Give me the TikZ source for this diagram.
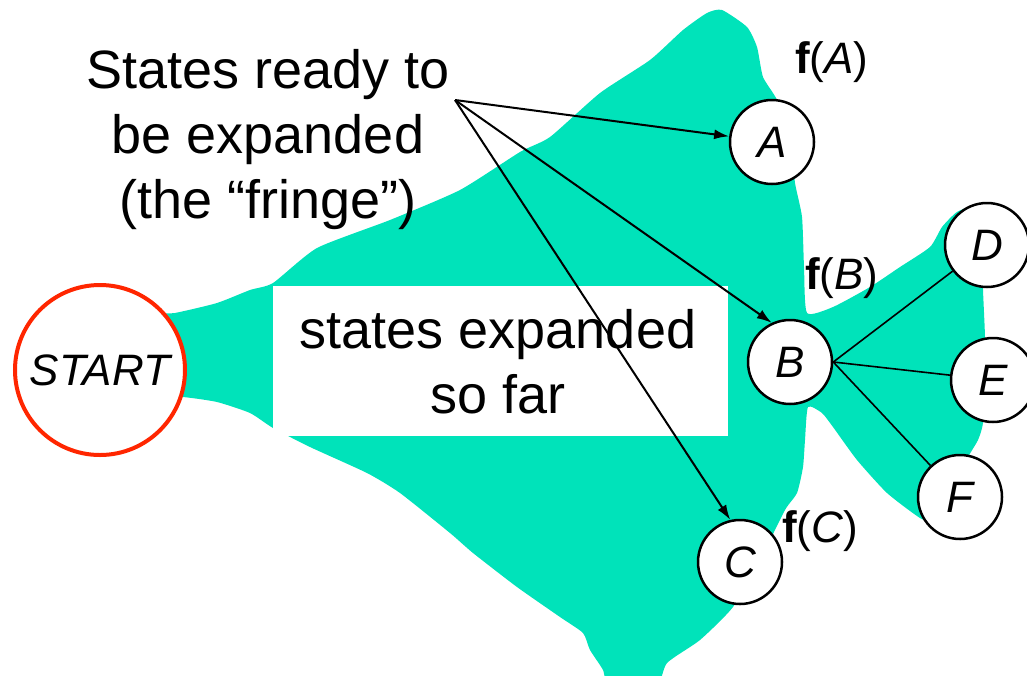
\documentclass[tikz,border=0pt]{standalone}
\usepackage{fontspec}
\setmainfont{Liberation Sans}
\usetikzlibrary{arrows.meta}
\definecolor{blobgreen}{RGB}{0,227,186}
\definecolor{startred}{RGB}{255,38,0}
\tikzset{
  big/.style={font=\fontsize{54}{65}\selectfont, inner sep=0pt, align=center},
  small/.style={font=\fontsize{44}{50}\selectfont, inner sep=0pt},
  state/.style={circle, draw=black, line width=2.5pt, fill=white, minimum size=84pt, inner sep=0pt, font=\fontsize{44}{50}\selectfont\itshape},
  startstate/.style={circle, draw=startred, line width=4pt, fill=white, minimum size=170pt, inner sep=0pt, font=\fontsize{44}{50}\selectfont\itshape},
  arr/.style={line width=2pt, -{Latex[length=15pt,width=10pt]}},
  edge/.style={line width=1.6pt}
}
\begin{document}
\begin{tikzpicture}[x=1pt, y=-1pt]
\useasboundingbox (0,0) rectangle (1027,675);
% green region
\fill[blobgreen] plot[smooth cycle, tension=0.35] coordinates {
(140,318) (175,313) (217,303) (250,290) (273,283) (317,248) (390,220) (460,190)
(520,152) (550,137) (600,93) (650,60) (683,30) (707,13) (722,10) (747,27)
(757,47) (763,77) (777,100) (790,140) (795,183) (802,217) (804,267) (807,313)
(833,307) (870,287) (900,267) (930,247) (942,227) (957,212) (975,208) (982,250)
(983,290) (985,337) (985,380) (983,423) (978,440) (968,457) (945,500) (935,522)
(920,518) (887,493) (857,460) (833,427) (822,413) (808,407) (805,440) (803,467)
(797,493) (785,510) (760,560) (733,607) (700,640) (667,663) (655,690) (610,690)
(603,670) (590,650) (583,633) (560,617) (517,587) (473,553) (450,533) (400,493)
(367,473) (310,447) (273,428) (250,413) (217,402) (183,397) (140,395)};
% white box
\fill[white] (273,286) rectangle (728,436);
\node[big, anchor=base] (expl) at (498,413) {states expanded\\so far};
% fringe label
\node[big, anchor=base] (fringe) at (268,218) {States ready to\\be expanded\\(the “fringe”)};
\coordinate (tip) at (455,100);
% states
\node[startstate] (S) at (100,370) {START};
\node[state] (A) at (772,142) {A};
\node[state] (B) at (790,362) {B};
\node[state] (C) at (740,562) {C};
\node[state] (D) at (987,245) {D};
\node[state] (E) at (993,380) {E};
\node[state] (F) at (960,497) {F};
% f labels
\node[small, anchor=base west] (fA) at (795,73) {\textbf{f}(\textit{A})};
\node[small, anchor=base west] (fB) at (805,289) {\textbf{f}(\textit{B})};
\node[small, anchor=base west] (fC) at (782,542) {\textbf{f}(\textit{C})};
% arrows
\draw[arr] (tip) -- (A);
\draw[arr] (tip) -- (B.115);
\draw[arr] (tip) -- (C.103);
% edges
\draw[edge] (B.east) -- (D);
\draw[edge] (B.east) -- (E);
\draw[edge] (B.east) -- (F);
\end{tikzpicture}
\end{document}
